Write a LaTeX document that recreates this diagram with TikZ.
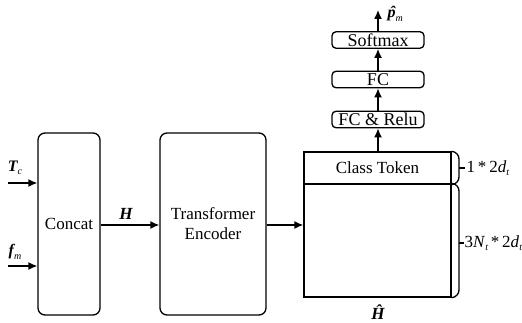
\documentclass[tikz,border=0pt]{standalone}
\usepackage{fontspec}
\setmainfont{Liberation Serif}
\usetikzlibrary{arrows.meta}
\newcommand{\bsym}[1]{{\bfseries\itshape #1}}
\newcommand{\sbs}[1]{\raisebox{-3.5pt}{\fontsize{10}{10}\selectfont\itshape #1}}
\newcommand{\hatp}{\setbox0\hbox{\bsym{p}}\setbox2\hbox to\wd0{\hss\kern2pt\bsym{\char"02C6}\hss}\wd2=0pt\box2\box0}
\begin{document}
\begin{tikzpicture}[x=1pt,y=-1pt,
  line width=1.3pt,
  bigbox/.style={draw, rounded corners=7pt, inner sep=0pt, font=\fontsize{17}{20}\selectfont, align=center},
  smallbox/.style={draw, rounded corners=4pt, inner sep=0pt, minimum width=92pt, minimum height=16.5pt, font=\fontsize{18}{20}\selectfont},
  plainbox/.style={draw, inner sep=0pt, minimum width=147pt},
  arr/.style={-{Latex[length=9pt,width=8pt]}},
  lbl/.style={inner sep=0pt, font=\fontsize{16}{18}\selectfont},
  dimlbl/.style={inner sep=0pt, anchor=west, font=\fontsize{17}{18}\selectfont}
]
\useasboundingbox (0,0) rectangle (522,323);
% main boxes
\node[bigbox, minimum width=62pt, minimum height=182pt] (concat) at (69,224) {Concat};
\node[bigbox, minimum width=106pt, minimum height=182pt] (trans) at (213,224) {Transformer\\Encoder};
\node[plainbox, minimum height=32pt, font=\fontsize{17}{20}\selectfont] (cls) at (377.5,168) {Class Token};
\node[plainbox, minimum height=113pt] (hh) at (377.5,240.5) {};
% top stack
\node[smallbox] (fcrelu) at (378,119.5) {FC \& Relu};
\node[smallbox] (fc) at (378,79.5) {FC};
\node[smallbox] (soft) at (378,40) {Softmax};
% input arrows
\coordinate (tcin) at (8,183);
\coordinate (fmin) at (8,266);
\draw[arr] (tcin) -- (tcin -| concat.west);
\draw[arr] (fmin) -- (fmin -| concat.west);
\node[lbl] (tclbl) at (15,168) {\bsym{T}\sbs{c}};
\node[lbl] (fmlbl) at (15,252) {\bsym{f}\sbs{m}};
% H
\draw[arr] (concat.east |- 0,225) -- (trans.west |- 0,225);
\node[lbl, font=\fontsize{17}{18}\selectfont] (hlbl) at (126,214) {\bsym{H}};
\draw[arr] (trans.east |- 0,225) -- (hh.west |- 0,225);
\node[lbl, font=\fontsize{17}{18}\selectfont] (hhat) at (378,312) {\bsym{\^H}};
% vertical arrows
\draw[arr] (cls.north -| fcrelu.south) -- (fcrelu.south);
\draw[arr] (fcrelu.north) -- (fc.south);
\draw[arr] (fc.north) -- (soft.south);
\coordinate (pout) at (378,10);
\draw[arr] (soft.north) -- (pout);
\node[lbl, anchor=west] (plbl) at (387,14) {\hatp\sbs{m}};
% braces
\draw[rounded corners=7pt] (cls.north east) -- (459,152) -- (459,184) -- (cls.south east);
\coordinate (t1) at (465,168);
\draw (459,168) -- (t1);
\draw[rounded corners=7pt] (hh.north east) -- (459,184) -- (459,297) -- (hh.south east);
\coordinate (t2) at (464,243);
\draw (459,243) -- (t2);
\node[dimlbl] (d1) at ([xshift=1pt]t1) {1\,*\,2\textit{d}\sbs{t}};
\node[dimlbl] (d2) at (t2) {3\textit{N}\sbs{t}\,*\,2\textit{d}\sbs{t}};
\end{tikzpicture}
\end{document}
